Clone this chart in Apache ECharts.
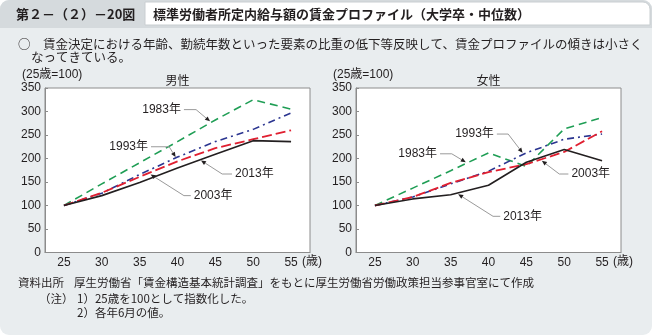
<!DOCTYPE html>
<html>
<head>
<meta charset="utf-8">
<script src="https://cdn.jsdelivr.net/npm/echarts@6/dist/echarts.min.js"></script>
<style>
  html, body { margin: 0; padding: 0; background: #ffffff; }
  #chart { width: 652px; height: 335px; background: #e9edef; border-radius: 9px; overflow: hidden; }
</style>
</head>
<body>
<div id="chart"></div>
<script>
// Age groups on the horizontal axis
const ages = ['25', '30', '35', '40', '45', '50', '55'];

// Wage index (age 25 = 100), men
const male1983 = [100, 146, 191, 236, 282, 325, 305];
const male1993 = [100, 126, 166, 203, 236, 262, 297];
const male2003 = [100, 127, 161, 194, 222, 241, 260];
const male2013 = [100, 121, 149, 180, 209, 238, 236];

// Wage index (age 25 = 100), women
const female1983 = [100, 137, 174, 212, 183, 263, 287];
const female1993 = [100, 118, 146, 173, 212, 241, 252];
const female2003 = [100, 118, 148, 171, 188, 214, 258];
const female2013 = [100, 114, 123, 143, 192, 219, 195];

// Value axis range
const yMin = 0, yMax = 350, yStep = 50;

const yearNames = ['1983年', '1993年', '2003年', '2013年'];
const panelNames = ['男性', '女性'];

const FONT_LATIN = '"Liberation Sans", Arial, "Noto Sans CJK JP", sans-serif';
const FONT_JP = '"Noto Sans CJK JP", sans-serif';
const INK = '#231f20';
const FRAME = '#8c8c8c';

const lineStyles = [
  { color: '#1f9e55', width: 1.6, type: [8, 5] },
  { color: '#2b3590', width: 1.6, type: [7, 4, 2, 4] },
  { color: '#e01f30', width: 1.8, type: [10, 4] },
  { color: '#231f20', width: 1.6, type: 'solid' }
];

const panels = [
  { left: 45, series: [male1983, male1993, male2003, male2013] },
  { left: 356, series: [female1983, female1993, female2003, female2013] }
];
const gridTop = 88, gridW = 265, gridH = 164.5;

const chart = echarts.init(document.getElementById('chart'), null, { renderer: 'canvas' });

const grids = [], xAxes = [], yAxes = [], series = [];
panels.forEach((p, gi) => {
  grids.push({
    left: p.left, top: gridTop, width: gridW, height: gridH,
    show: true, backgroundColor: '#ffffff', borderColor: FRAME, borderWidth: 1,
    containLabel: false
  });
  xAxes.push({
    type: 'category', gridIndex: gi, data: ages, boundaryGap: true,
    axisLine: { lineStyle: { color: FRAME, width: 1 } },
    axisTick: { inside: true, length: 4, lineStyle: { color: FRAME } },
    axisLabel: { fontSize: 12, color: INK, margin: 4, fontFamily: FONT_LATIN },
    splitLine: { show: false }
  });
  yAxes.push({
    type: 'value', gridIndex: gi, min: yMin, max: yMax, interval: yStep,
    axisLine: { show: true, lineStyle: { color: FRAME, width: 1 } },
    axisTick: { show: true, inside: true, length: 3, lineStyle: { color: FRAME } },
    axisLabel: { fontSize: 12, color: INK, margin: 4, fontFamily: FONT_LATIN },
    splitLine: { show: false }
  });
  p.series.forEach((vals, si) => {
    series.push({
      type: 'line', name: yearNames[si] + gi, xAxisIndex: gi, yAxisIndex: gi,
      data: vals, symbol: 'none', smooth: false, animation: false,
      lineStyle: lineStyles[si], z: 2 + si
    });
  });
});

chart.setOption({
  backgroundColor: 'transparent',
  animation: false,
  grid: grids, xAxis: xAxes, yAxis: yAxes, series: series
});

// Callout leaders: positions given in axis units (category index, index value)
const notes = [
  [ // men
    { text: '1983年', at: [3.17, 304], elbow: [3.49, 304], tip: [3.86, 279], align: 'right' },
    { text: '1993年', at: [2.30, 225], elbow: [2.78, 225], tip: [2.95, 203], align: 'right' },
    { text: '2003年', at: [3.35, 121], elbow: [3.17, 121], tip: [2.29, 166], align: 'left' },
    { text: '2013年', at: [4.44, 167], elbow: [4.18, 167], tip: [3.62, 196], align: 'left' }
  ],
  [ // women
    { text: '1993年', at: [3.22, 252], elbow: [3.52, 252], tip: [3.90, 212], align: 'right' },
    { text: '1983年', at: [1.72, 210], elbow: [2.03, 210], tip: [2.40, 192], align: 'right' },
    { text: '2003年', at: [5.11, 167], elbow: [4.87, 167], tip: [4.41, 195], align: 'left' },
    { text: '2013年', at: [3.31, 77], elbow: [3.12, 77], tip: [2.20, 124], align: 'left' }
  ]
];

function toPx(gi, pt) {
  const a = chart.convertToPixel({ gridIndex: gi }, [0, pt[1]]);
  const b = chart.convertToPixel({ gridIndex: gi }, [1, pt[1]]);
  return [a[0] + (b[0] - a[0]) * pt[0], a[1]];
}

const g = [];

// Header band
g.push({ type: 'rect', shape: { x: 0, y: 0, width: 652, height: 28 }, style: { fill: '#d5dadd' }, silent: true });
g.push({ type: 'rect', shape: { x: 145, y: 2, width: 505, height: 23, r: [0, 7, 0, 0] },
  style: { fill: '#ffffff', stroke: '#c9ced1', lineWidth: 1 }, silent: true });
g.push({ type: 'text', x: 16, y: 14, style: { text: '第２－（２）－20図', font: 'bold 13px ' + FONT_JP, fill: INK, textVerticalAlign: 'middle' } });
g.push({ type: 'text', x: 153, y: 14, style: { text: '標準労働者所定内給与額の賃金プロファイル（大学卒・中位数）', font: 'bold 13px ' + FONT_JP, fill: INK, textVerticalAlign: 'middle' } });

// Summary sentence
g.push({ type: 'text', x: 18, y: 44, style: { text: '○　賃金決定における年齢、勤続年数といった要素の比重の低下等反映して、賃金プロファイルの傾きは小さく', font: '12.5px ' + FONT_JP, fill: INK, textVerticalAlign: 'middle' } });
g.push({ type: 'text', x: 31, y: 57.5, style: { text: 'なってきている。', font: '12.5px ' + FONT_JP, fill: INK, textVerticalAlign: 'middle' } });

// Panel captions, axis names and units
panels.forEach((p, gi) => {
  g.push({ type: 'text', x: p.left + gridW / 2, y: 80, style: { text: panelNames[gi], font: '12px ' + FONT_JP, fill: INK, textAlign: 'center', textVerticalAlign: 'middle' } });
  g.push({ type: 'text', x: p.left - 23, y: 75, style: { text: '(25歳=100)', font: '12px ' + FONT_LATIN, fill: INK, textVerticalAlign: 'middle' } });
  g.push({ type: 'text', x: p.left + gridW - 8, y: 262, style: { text: '(歳)', font: '12px ' + FONT_LATIN, fill: INK, textVerticalAlign: 'middle' } });
});

// Callouts
notes.forEach((list, gi) => {
  list.forEach(n => {
    const a = toPx(gi, n.at), e = toPx(gi, n.elbow), t = toPx(gi, n.tip);
    const dx = t[0] - e[0], dy = t[1] - e[1];
    const len = Math.hypot(dx, dy), ux = dx / len, uy = dy / len;
    const hl = 5, hw = 2.2;
    const base = [t[0] - ux * hl, t[1] - uy * hl];
    g.push({ type: 'polyline', shape: { points: [a, e, base] }, style: { stroke: '#9a9a9a', lineWidth: 1, fill: null }, silent: true, z: 20 });
    g.push({ type: 'polygon', shape: { points: [t, [base[0] - uy * hw, base[1] + ux * hw], [base[0] + uy * hw, base[1] - ux * hw]] }, style: { fill: '#231f20' }, silent: true, z: 21 });
    const tx = n.align === 'right' ? a[0] - 3 : a[0] + 3;
    g.push({ type: 'text', x: tx, y: a[1], z: 21, style: { text: n.text, font: '12px ' + FONT_LATIN, fill: INK, textAlign: n.align, textVerticalAlign: 'middle' } });
  });
});

// Source and notes
g.push({ type: 'text', x: 18, y: 283, style: { text: '資料出所', font: '11.5px ' + FONT_JP, fill: INK, textVerticalAlign: 'middle' } });
g.push({ type: 'text', x: 74, y: 283, style: { text: '厚生労働省「賃金構造基本統計調査」をもとに厚生労働省労働政策担当参事官室にて作成', font: '11.5px ' + FONT_JP, fill: INK, textVerticalAlign: 'middle' } });
g.push({ type: 'text', x: 39, y: 298.5, style: { text: '（注）', font: '11.5px ' + FONT_JP, fill: INK, textVerticalAlign: 'middle' } });
g.push({ type: 'text', x: 77, y: 298.5, style: { text: '1）25歳を100として指数化した。', font: '11.5px ' + FONT_JP, fill: INK, textVerticalAlign: 'middle' } });
g.push({ type: 'text', x: 77, y: 313, style: { text: '2）各年6月の値。', font: '11.5px ' + FONT_JP, fill: INK, textVerticalAlign: 'middle' } });

chart.setOption({ graphic: g });
</script>
</body>
</html>
